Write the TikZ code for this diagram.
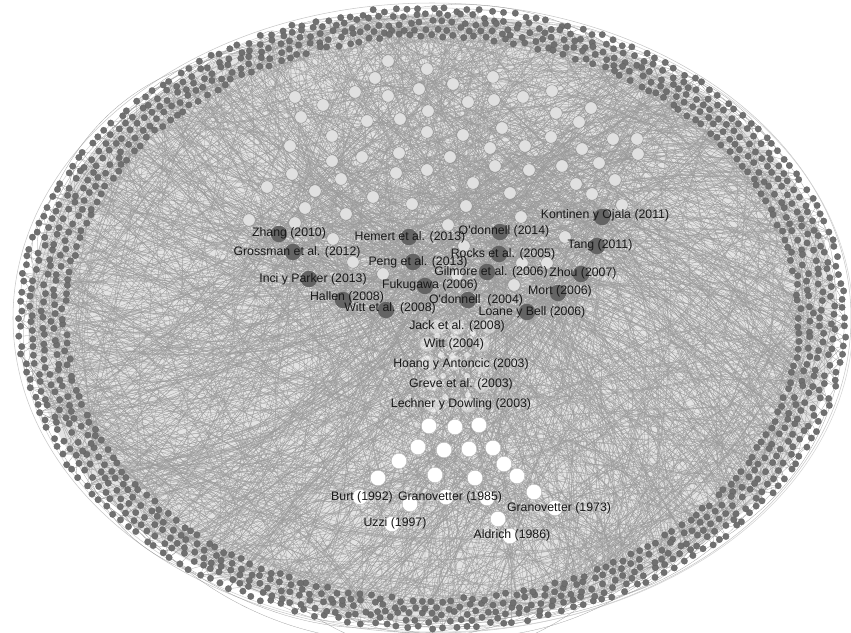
\documentclass[tikz,border=0pt]{standalone}
\usepackage{fontspec}
\newfontfamily\labfont{Liberation Sans}
\pgfdeclarelayer{edges}
\pgfsetlayers{edges,main}
\definecolor{ringgray}{RGB}{112,112,112}
\definecolor{hubgray}{RGB}{100,100,100}
\definecolor{lightnode}{RGB}{224,224,224}
\definecolor{edgegray}{RGB}{155,155,155}
\tikzset{
  ringdot/.style={circle, fill=ringgray, draw=ringgray!80!black, line width=0.1pt, inner sep=0pt, minimum size=1.3mm},
  hub/.style={circle, fill=hubgray, inner sep=0pt, minimum size=3.3mm},
  paper/.style={circle, fill=lightnode, draw=gray, line width=0.2pt, inner sep=0pt, minimum size=2.5mm},
  classic/.style={circle, fill=white, draw=gray!60, line width=0.2pt, inner sep=0pt, minimum size=3.1mm},
  faint/.style={circle, fill=white, fill opacity=0.45, draw=gray!50, line width=0.2pt, inner sep=0pt, minimum size=3mm},
  speck/.style={circle, fill=white, fill opacity=0.6, inner sep=0pt, minimum size=1.2mm},
  edge/.style={draw=edgegray, line width=0.15pt},
  lab/.style={font=\labfont\fontsize{7}{8}\selectfont, text=black!90, inner sep=0pt}
}

\begin{document}
\begin{tikzpicture}[x=0.2mm, y=-0.2mm]
\useasboundingbox (0,0) rectangle (851,633);
\pgfmathsetseed{7}

% outer ring of uncited papers
\foreach \j in {0,...,4}{
  \foreach \k in {0,...,219}{
    \pgfmathtruncatemacro\idx{\j*220+\k}
    \pgfmathsetmacro\ang{(\k+0.5*mod(\j,2))*1.636364+0.4*rand}
    \pgfmathsetmacro\rx{412-11*\j+2.5*rand}
    \pgfmathsetmacro\ry{309-6.5*\j+2.5*rand}
    \node[ringdot] (r\idx) at ({432+\rx*cos(\ang)},{318+\ry*sin(\ang)}) {};
  }
}

% inner papers
\foreach \x/\y [count=\i] in {388/61, 427/69, 375/78, 493/77, 453/84, 295/97, 355/92, 388/96,
  419/89, 552/91, 323/105, 468/102, 494/100, 523/97, 301/117, 367/121, 400/119, 428/111,
  556/113, 591/108, 579/122, 427/132, 463/135, 502/128, 332/136, 551/137, 613/139, 637/139,
  290/146, 399/153, 450/157, 490/148, 525/146, 582/149, 638/154, 332/161, 362/157, 396/173,
  427/170, 495/166, 529/170, 562/166, 599/163, 292/174, 341/179, 267/187, 315/191, 473/183,
  510/193, 576/184, 615/180, 592/194, 373/197, 412/204, 466/206, 305/208, 346/214, 521/217,
  622/205, 249/220, 295/223, 333/239, 353/262, 383/274, 448/225, 464/246, 565/237, 522/263,
  547/263, 457/275, 514/285}
  \node[paper] (p\i) at (\x,\y) {};

% middle column
\foreach \x/\y [count=\i] in {437/327, 457/327, 489/326, 427/344, 455/343, 482/344, 427/363,
  455/363, 482/365, 432/383, 482/385, 433/405, 468/405}
  \node[faint] (m\i) at (\x,\y) {};
\foreach \x/\y [count=\i] in {437/336, 473/333, 441/355, 452/356, 467/355, 443/376, 467/376,
  445/397, 468/395}
  \node[speck] (s\i) at (\x,\y) {};

% classics at the bottom
\foreach \x/\y [count=\i] in {429/426, 455/427, 479/425, 418/447, 444/450, 469/449, 493/448,
  399/461, 504/464, 378/478, 435/475, 475/478, 517/476, 534/492, 487/498, 410/504, 498/519}
  \node[classic] (w\i) at (\x,\y) {};
\node[classic] (burt) at (360,497) {};
\node[classic] (granb) at (446,497) {};
\node[classic] (grana) at (555,508) {};
\node[classic] (uzzi) at (392,524) {};
\node[classic] (aldrich) at (510,536) {};

% most cited recent papers
\foreach \nm/\x/\y in {zhang/279/234, grossman/293/252, inci/309/279, hallen/343/300,
  witta/386/310, hemert/409/237, peng/413/262, fukugawa/425/286, odonnellb/468/300,
  gilmore/487/272, rocks/499/254, odonnella/500/232, kontinen/602/217, tang/597/246,
  zhou/581/274, mort/558/293, loane/527/312}
  \node[hub] (\nm) at (\x,\y) {};

% citations
\begin{pgfonlayer}{edges}
\fill[black!11] (432,318) ellipse [x radius=404, y radius=304];
\draw[gray!45, line width=0.3pt] (432,318) ellipse [x radius=419, y radius=315];
\draw[gray!35, line width=0.3pt] (436,320) ellipse [x radius=417, y radius=312];
\foreach \e in {1,...,900}{
  \pgfmathrandominteger\a{0}{1099}
  \pgfmathrandominteger\b{0}{1099}
  \pgfmathrandominteger\c{8}{35}
  \draw[edge] (r\a) to[bend left=\c] (r\b);
}
\foreach \h in {zhang,grossman,inci,hallen,witta,hemert,peng,fukugawa,odonnellb,
  gilmore,rocks,odonnella,kontinen,tang,zhou,mort,loane}{
  \foreach \e in {1,...,40}{
    \pgfmathrandominteger\a{0}{1099}
    \pgfmathrandominteger\c{5}{30}
    \draw[edge] (\h) to[bend left=\c] (r\a);
  }
}
\foreach \i in {1,...,71}{
  \foreach \e in {1,...,5}{
    \pgfmathrandominteger\a{0}{1099}
    \pgfmathrandominteger\c{5}{30}
    \draw[edge] (p\i) to[bend left=\c] (r\a);
  }
}
\foreach \h in {w1,w2,w3,w4,w5,w6,w7,w8,w9,w10,w11,w12,w13,w14,w15,w16,w17,
  burt,granb,grana,uzzi,aldrich}{
  \foreach \e in {1,...,7}{
    \pgfmathrandominteger\a{0}{1099}
    \pgfmathrandominteger\c{5}{30}
    \draw[edge] (\h) to[bend left=\c] (r\a);
  }
}
\end{pgfonlayer}

% labels
\node[lab] (zhang-l) at (289,233) {Zhang (2010)};
\node[lab] (grossman-l) at (297,252) {Grossman et al. (2012)};
\node[lab] (inci-l) at (313,279) {Inci y Parker (2013)};
\node[lab] (hallen-l) at (347,297) {Hallen (2008)};
\node[lab] (witta-l) at (390,308) {Witt et al. (2008)};
\node[lab] (hemert-l) at (410,237) {Hemert et al. (2013)};
\node[lab] (peng-l) at (418,262) {Peng et al. (2013)};
\node[lab] (fukugawa-l) at (430,285) {Fukugawa (2006)};
\node[lab] (odonnellb-l) at (476,300) {O'donnell\ \ (2004)};
\node[lab] (gilmore-l) at (491,272) {Gilmore et al. (2006)};
\node[lab] (rocks-l) at (503,254) {Rocks et al. (2005)};
\node[lab] (odonnella-l) at (504,231) {O'donnell (2014)};
\node[lab] (kontinen-l) at (605,215) {Kontinen y Ojala (2011)};
\node[lab] (tang-l) at (600,245) {Tang (2011)};
\node[lab] (zhou-l) at (583,273) {Zhou (2007)};
\node[lab] (mort-l) at (560,291) {Mort (2006)};
\node[lab] (loane-l) at (532,312) {Loane y Bell (2006)};
\node[lab] (jack-l) at (457,326) {Jack et al. (2008)};
\node[lab] (wittb-l) at (454,344) {Witt (2004)};
\node[lab] (hoang-l) at (461,364) {Hoang y Antoncic (2003)};
\node[lab] (greve-l) at (461,384) {Greve et al. (2003)};
\node[lab] (lechner-l) at (461,404) {Lechner y Dowling (2003)};
\node[lab] (burt-l) at (362,497) {Burt (1992)};
\node[lab] (granb-l) at (450,497) {Granovetter (1985)};
\node[lab] (grana-l) at (559,508) {Granovetter (1973)};
\node[lab] (uzzi-l) at (395,523) {Uzzi (1997)};
\node[lab] (aldrich-l) at (512,535) {Aldrich (1986)};
\end{tikzpicture}
\end{document}
